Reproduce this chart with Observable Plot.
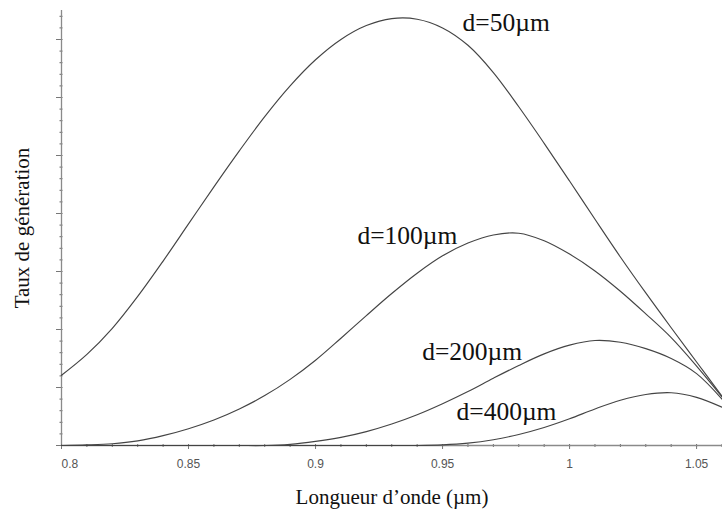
<!DOCTYPE html>
<html>
<head>
<meta charset="utf-8">
<script src="https://cdn.jsdelivr.net/npm/d3@7"></script>
<script src="https://cdn.jsdelivr.net/npm/@observablehq/plot@0.6"></script>
<style>
  html, body { margin: 0; padding: 0; background: #fff; }
  #chart svg { display: block; }
</style>
</head>
<body>
<div id="chart"></div>
<script>
// Wavelength grid (µm)
const wavelength = [0.80, 0.81, 0.82, 0.83, 0.84, 0.85, 0.86, 0.87, 0.88, 0.89,
                    0.90, 0.91, 0.92, 0.93, 0.94, 0.95, 0.96, 0.97, 0.98, 0.99,
                    1.00, 1.01, 1.02, 1.03, 1.04, 1.05, 1.06];

// Generation rate (arbitrary units) for each thickness d
const g50  = [1.21, 1.57, 2.02, 2.57, 3.18, 3.82, 4.46, 5.08, 5.67, 6.20,
              6.65, 7.00, 7.24, 7.36, 7.35, 7.20, 6.90, 6.43, 5.84, 5.21,
              4.56, 3.90, 3.25, 2.63, 2.03, 1.44, 0.85];
const g100 = [0.00, 0.01, 0.03, 0.08, 0.17, 0.29, 0.44, 0.63, 0.86, 1.14,
              1.47, 1.85, 2.24, 2.62, 2.97, 3.27, 3.49, 3.63, 3.66, 3.53,
              3.30, 3.01, 2.66, 2.27, 1.86, 1.37, 0.84];
const g200 = [0.00, 0.00, 0.00, 0.00, 0.00, 0.00, 0.00, 0.00, 0.00, 0.02,
              0.07, 0.14, 0.24, 0.37, 0.53, 0.72, 0.93, 1.16, 1.38, 1.58,
              1.73, 1.81, 1.78, 1.67, 1.50, 1.24, 0.80];
const g400 = [0.00, 0.00, 0.00, 0.00, 0.00, 0.00, 0.00, 0.00, 0.00, 0.00,
              0.00, 0.00, 0.00, 0.00, 0.00, 0.01, 0.04, 0.10, 0.19, 0.31,
              0.46, 0.63, 0.78, 0.88, 0.91, 0.83, 0.66];

// Curve annotations
const seriesNames = ["d=50µm", "d=100µm", "d=200µm", "d=400µm"];
const labelX = [0.9579, 0.9165, 0.9420, 0.9555];
const labelY = [7.28, 3.62, 1.62, 0.58];

// Axis ticks
const xTickValues = [0.80, 0.85, 0.90, 0.95, 1.00, 1.05];
const xTickLabels = ["0.8", "0.85", "0.9", "0.95", "1", "1.05"];
const xMinorTicks = d3.range(80, 107).map(v => v / 100);
const yMajorTicks = [0, 1, 2, 3, 4, 5, 6, 7];
const yMinorTicks = d3.range(0, 38).map(v => v / 5);

const curves = [g50, g100, g200, g400].flatMap((vals, i) =>
  vals.map((g, j) => ({series: seriesNames[i], lambda: wavelength[j], g}))
);
const labels = seriesNames.map((name, i) => ({name, x: labelX[i], y: labelY[i]}));
const xTicks = xTickValues.map((v, i) => ({v, label: xTickLabels[i]}));

const serif = "'Liberation Serif', 'DejaVu Serif', serif";
const axisColor = "#8a8a8a";

const chart = Plot.plot({
  width: 722,
  height: 524,
  marginLeft: 61,
  marginRight: 0,
  marginTop: 10,
  marginBottom: 79,
  style: {background: "#fff", fontFamily: "'Liberation Sans', Arial, sans-serif"},
  x: {domain: [0.8, 1.0602], axis: null},
  y: {domain: [0, 7.5], axis: null},
  marks: [
    // y axis: minor ticks straddling the line, major ticks pointing left
    Plot.axisY({ticks: yMinorTicks, tickSize: 3, dx: 1.5, tickFormat: () => "", label: null, stroke: "#666"}),
    Plot.axisY({ticks: yMajorTicks, tickSize: 5, tickFormat: () => "", label: null, stroke: "#777"}),
    Plot.ruleX([0.8], {stroke: axisColor, strokeWidth: 1.3}),
    // x axis
    Plot.axisX({ticks: xMinorTicks, tickSize: 3, dy: -1, tickFormat: () => "", label: null, stroke: "#666"}),
    Plot.axisX({ticks: xTickValues, tickSize: 4, tickFormat: () => "", label: null, stroke: "#777"}),
    Plot.ruleY([0], {stroke: axisColor, strokeWidth: 1.3}),
    Plot.text(xTicks.slice(0, 1), {x: "v", y: 0, text: "label", dy: 19, textAnchor: "start", fontSize: 12, fill: "#555"}),
    Plot.text(xTicks.slice(1), {x: "v", y: 0, text: "label", dy: 19, fontSize: 12, fill: "#555"}),
    // curves
    Plot.line(curves, {x: "lambda", y: "g", z: "series", curve: "catmull-rom", stroke: "#444", strokeWidth: 1.15}),
    // curve labels
    Plot.text(labels, {x: "x", y: "y", text: "name", textAnchor: "start", fontSize: 25.5, fontFamily: serif, fill: "#111"}),
    // axis titles
    Plot.text(["Longueur d’onde (µm)"], {frameAnchor: "bottom", dy: 52, lineAnchor: "middle", fontSize: 21, fontFamily: serif, fill: "#111"}),
    Plot.text(["Taux de génération"], {frameAnchor: "left", dx: -39, rotate: -90, textAnchor: "middle", lineAnchor: "middle", fontSize: 21, fontFamily: serif, fill: "#111"})
  ]
});

document.getElementById("chart").appendChild(chart);
</script>
</body>
</html>
